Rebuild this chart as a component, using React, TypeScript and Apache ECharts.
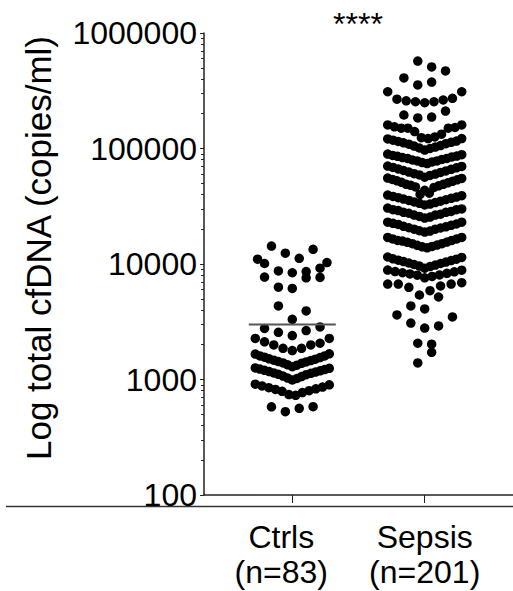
import React, { useEffect, useRef } from 'react';
import * as echarts from 'echarts';

// ---- data ----
const categories = ['Ctrls', 'Sepsis'];
const categoryCounts = ['(n=83)', '(n=201)'];
const yTickValues = [100, 1000, 10000, 100000, 1000000];
const minorMultipliers = [2, 3, 4, 5, 6, 7, 8, 9];
const ctrlsMean = 3000;
const significance = '****';
const yTitle = 'Log total cfDNA (copies/ml)';

// Rows of the dot plot, top to bottom; values inside a row from left to right (copies/ml)
const ctrlsRows: number[][] = [
  [11000, 14300, 12400, 11200, 13400, 10300],
  [10100, 8700, 8400, 8600, 9200],
  [7700, 6300, 6150, 7600, 7650],
  [4330, 3320, 3920],
  [2770, 2560, 2400, 2650, 2850],
  [2270, 2120, 1990, 1860, 1780, 1860, 1990, 2060, 2270],
  [1660, 1600, 1560, 1510, 1470, 1430, 1390, 1340, 1290, 1330, 1380, 1420, 1460, 1500, 1550, 1600, 1670],
  [1260, 1230, 1200, 1170, 1140, 1110, 1070, 1030, 990, 1020, 1060, 1100, 1130, 1160, 1190, 1220, 1250],
  [910, 880, 850, 820, 790, 740, 730, 770, 800, 830, 860, 900],
  [580, 526, 563, 581],
];

const sepsisRows: number[][] = [
  [408000, 572000, 508000, 469000],
  [355000, 376000],
  [310000, 267000, 259000, 254000, 249000, 254000, 263000, 272000, 310000],
  [195000, 184000, 187000, 211000],
  [160000, 154000, 150000, 150000, 140000, 124000, 122000, 126000, 133000, 150000, 152000, 160000],
  [121000, 118000, 115000, 112000, 109000, 105000, 101000, 97000, 100000, 103000, 106000, 110000, 113000, 116000, 122000],
  [89500, 87000, 85500, 83500, 82000, 79500, 78000, 75500, 74000, 76500, 78000, 80500, 82000, 84500, 86000, 88500],
  [70500, 68500, 66500, 64500, 62500, 60500, 59000, 56500, 58500, 60000, 62000, 64000, 66000, 68000, 70000],
  [55500, 54000, 52500, 51000, 49000, 48000, 46500, 40000, 43500, 41000, 46000, 47500, 49000, 50500, 52000, 53500, 55000],
  [39500, 38500, 37500, 36500, 35500, 34500, 33500, 32500, 33000, 34000, 35000, 36000, 37000, 38000, 39000],
  [30500, 29500, 29000, 28000, 27500, 26500, 25800, 25000, 25500, 26500, 27000, 28000, 28500, 29500, 30000],
  [23000, 22500, 22000, 21200, 20600, 20000, 19400, 18900, 19300, 20000, 20500, 21000, 21600, 22200, 23000],
  [17000, 16500, 16000, 15800, 15400, 15000, 14500, 14100, 13800, 14200, 14600, 15000, 15500, 16000, 16500, 17000],
  [11500, 11100, 10800, 10500, 10200, 9900, 9600, 9200, 9500, 9800, 10100, 10400, 10700, 11000, 11400],
  [8870, 8600, 8400, 8200, 8000, 7600, 7800, 8050, 8300, 8550, 8850],
  [6710, 6710, 6280, 5390, 5870, 6450, 6710, 6890],
  [4330, 4080, 5180],
  [3620, 3080, 2790, 2910, 3480],
  [2060, 2020],
  [1390, 1720],
];

// ---- layout (not data) ----
const W = 513;
const H = 591;
const GRID = { left: 204, right: 0, top: 33, bottom: 96 };
const X_MIN = 0;
const X_MAX = 3.5;
const categoryPositions = [1, 2.5];
const PX_PER_UNIT = (W - GRID.left - GRID.right) / (X_MAX - X_MIN);
const DOT = 9.25;
const ROW_WIDTH = 74;
const MEAN_HALF_WIDTH_PX = 43.5;
const FONT = '"Liberation Sans", Arial, sans-serif';

function swarm(rows: number[][], center: number): number[][] {
  const pts: number[][] = [];
  rows.forEach((row) => {
    const n = row.length;
    const step = n > 1 ? Math.min(1.5 * DOT, ROW_WIDTH / (n - 1)) : 0;
    row.forEach((v, i) => {
      pts.push([center + ((i - (n - 1) / 2) * step) / PX_PER_UNIT, v]);
    });
  });
  return pts;
}

export default function App() {
  const ref = useRef<HTMLDivElement>(null);

  useEffect(() => {
    if (!ref.current) return;
    const chart = echarts.init(ref.current, undefined, { renderer: 'svg' });

    const minorLog: number[] = [];
    for (let i = 0; i < yTickValues.length - 1; i++) {
      minorMultipliers.forEach((m) => minorLog.push(Math.log10(yTickValues[i] * m)));
    }
    const halfW = MEAN_HALF_WIDTH_PX / PX_PER_UNIT;
    const labelLine1 = { fontSize: 32, lineHeight: 40, color: '#000', fontFamily: FONT };
    const labelLine2 = { fontSize: 32, lineHeight: 30, color: '#000', fontFamily: FONT };

    const option: any = {
      animation: false,
      backgroundColor: '#fff',
      grid: { ...GRID, containLabel: false, outerBoundsMode: 'none' },
      xAxis: {
        type: 'value',
        min: X_MIN,
        max: X_MAX,
        splitLine: { show: false },
        axisLine: { show: true, lineStyle: { color: '#222', width: 1.5 } },
        axisTick: {
          show: true,
          customValues: categoryPositions,
          length: 8,
          lineStyle: { color: '#222', width: 1 },
        },
        axisLabel: {
          show: true,
          customValues: categoryPositions,
          margin: 22,
          formatter: (v: number) => {
            const idx = categoryPositions.indexOf(v);
            if (idx < 0) return '';
            const key = idx === 0 ? 'a' : 'b';
            return `{${key}1|${categories[idx]}}\n{${key}2|${categoryCounts[idx]}}`;
          },
          rich: {
            a1: { ...labelLine1, padding: [0, 22, 0, 0] },
            a2: { ...labelLine2, padding: [0, 22, 0, 0] },
            b1: { ...labelLine1 },
            b2: { ...labelLine2 },
          },
        },
      },
      yAxis: [
        {
          type: 'log',
          logBase: 10,
          min: yTickValues[0],
          max: yTickValues[yTickValues.length - 1],
          splitLine: { show: false },
          axisLine: { show: true, lineStyle: { color: '#222', width: 1.5 } },
          axisTick: { show: true, length: 4, lineStyle: { color: '#222', width: 1 } },
          axisLabel: {
            fontSize: 32,
            color: '#000',
            fontFamily: FONT,
            margin: 7,
            formatter: (v: number) => String(Math.round(v)),
          },
        },
        {
          type: 'value',
          min: Math.log10(yTickValues[0]),
          max: Math.log10(yTickValues[yTickValues.length - 1]),
          position: 'left',
          splitLine: { show: false },
          axisLine: { show: false },
          axisLabel: { show: false },
          axisTick: {
            show: true,
            customValues: minorLog,
            length: 3,
            lineStyle: { color: '#222', width: 1 },
          },
        },
      ],
      series: [
        {
          name: categories[0],
          type: 'scatter',
          yAxisIndex: 0,
          symbol: 'circle',
          symbolSize: 9.5,
          itemStyle: { color: '#000', opacity: 1 },
          emphasis: { disabled: true },
          data: swarm(ctrlsRows, categoryPositions[0]),
          z: 2,
        },
        {
          name: categories[1],
          type: 'scatter',
          yAxisIndex: 0,
          symbol: 'circle',
          symbolSize: 9.5,
          itemStyle: { color: '#000', opacity: 1 },
          emphasis: { disabled: true },
          data: swarm(sepsisRows, categoryPositions[1]),
          z: 2,
        },
        {
          name: 'mean',
          type: 'line',
          yAxisIndex: 0,
          symbol: 'none',
          lineStyle: { color: '#555', width: 2 },
          data: [
            [categoryPositions[0] - halfW, ctrlsMean],
            [categoryPositions[0] + halfW, ctrlsMean],
          ],
          z: 3,
        },
      ],
      graphic: [
        {
          type: 'text',
          x: 38,
          y: 248,
          rotation: Math.PI / 2,
          style: {
            text: yTitle,
            fontSize: 35,
            fontFamily: FONT,
            fill: '#000',
            align: 'center',
            verticalAlign: 'middle',
            textAlign: 'center',
            textVerticalAlign: 'middle',
          },
        },
        {
          type: 'text',
          x: 358,
          y: 24,
          style: {
            text: significance,
            fontSize: 32,
            fontFamily: FONT,
            fill: '#000',
            align: 'center',
            verticalAlign: 'middle',
            textAlign: 'center',
            textVerticalAlign: 'middle',
          },
        },
        {
          type: 'line',
          shape: { x1: 6, y1: 506.5, x2: W, y2: 506.5 },
          style: { stroke: '#333', lineWidth: 1.5 },
        },
      ],
    };

    chart.setOption(option);
    return () => chart.dispose();
  }, []);

  return (
    <div
      ref={ref}
      style={{ position: 'fixed', left: 0, top: 0, width: W, height: H, background: '#fff' }}
    />
  );
}
